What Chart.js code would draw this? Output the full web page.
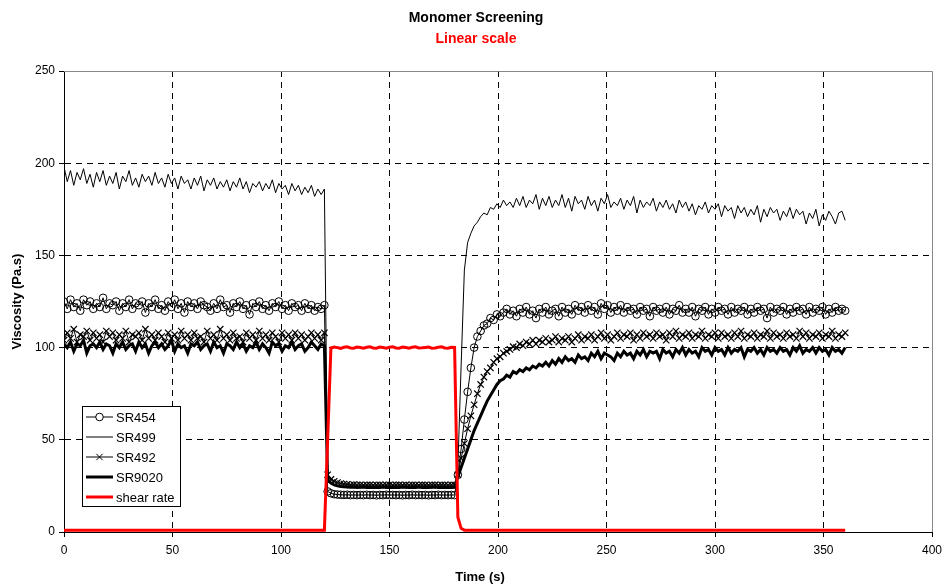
<!DOCTYPE html>
<html>
<head>
<meta charset="utf-8">
<script src="https://cdn.jsdelivr.net/npm/chart.js@4.4.1/dist/chart.umd.min.js"></script>
<style>
  html, body { margin: 0; padding: 0; background: #fff; }
  #wrap { width: 944px; height: 585px; }
</style>
</head>
<body>
<div id="wrap"><canvas id="myChart" width="944" height="585"></canvas></div>
<script>
// one reading every 1.5 s, 0..360 s
const SAMPLE_STEP = 1.5;
const SAMPLE_COUNT = 241;
const time = Array.from({ length: SAMPLE_COUNT }, (_, i) => i * SAMPLE_STEP);

const seriesNames = ['SR454', 'SR499', 'SR492', 'SR9020', 'shear rate'];
const xTicks = [0, 50, 100, 150, 200, 250, 300, 350, 400];
const yTicks = [0, 50, 100, 150, 200, 250];

const sr454 = [
  125,121,126,122,124,120,126,123,125,121,
  124,122,127,121,124,123,125,120,124,122,
  126,121,124,123,125,119,124,122,126,121,
  123,120,125,122,126,121,124,119,125,122,
  124,121,125,123,122,120,124,121,126,122,
  123,119,124,122,125,121,123,118,124,122,
  125,121,123,120,124,122,125,121,123,120,
  124,122,123,120,124,121,123,120,122,121,
  123,
  22,21,20.5,20.3,20.2,20.1,20.2,20,20.1,20,
  20.1,20,20.2,20,20.1,19.9,20.1,20,20.2,20,
  20.1,20,20.1,19.9,20.1,20,20.2,20,20.1,20,
  20.1,19.9,20.1,20,20.2,20,20.1,20,20.1,20,
  31,45,61,76,89,100,106,109,112,113,
  116,115,118,117,119,121,118,120,117,121,
  119,122,118,120,116,121,119,122,118,120,
  121,117,122,119,121,118,123,120,122,119,
  123,120,122,118,124,121,123,119,122,120,
  123,119,122,120,121,118,122,120,121,117,
  122,120,121,119,122,118,121,120,123,119,
  121,119,122,117,121,120,122,118,121,119,
  122,120,121,118,122,119,121,120,122,118,
  121,119,122,120,121,116,122,119,121,120,
  122,118,121,119,122,120,121,118,122,119,
  121,120,122,118,121,119,122,120,121,120
];

const sr499 = [
  198,190,196,188,195,191,197,189,194,187,
  195,190,196,188,193,189,195,186,193,190,
  196,188,192,187,194,190,193,188,195,189,
  192,187,194,189,192,186,193,189,191,186,
  192,188,193,185,191,188,192,186,190,187,
  191,185,190,187,192,186,190,184,189,187,
  190,185,189,186,191,184,189,186,188,183,
  189,185,188,183,187,184,188,182,186,183,
  186,
  30,27,25.8,25.2,24.9,24.7,24.6,24.5,24.6,24.4,
  24.5,24.6,24.4,24.5,24.3,24.5,24.4,24.6,24.4,24.5,
  24.3,24.5,24.4,24.6,24.4,24.3,24.5,24.4,24.6,24.4,
  24.5,24.3,24.4,24.6,24.4,24.5,24.3,24.5,24.4,24.5,
  35,90,142,157,162,166,168,171,173,172,
  176,175,178,176,180,177,179,176,181,177,
  182,176,180,178,183,175,181,177,182,176,
  180,177,183,176,181,174,182,178,180,175,
  182,177,180,174,181,178,183,176,179,177,
  181,175,180,177,182,173,180,176,179,177,
  181,174,179,176,180,175,178,173,180,176,
  179,174,178,172,177,175,179,173,177,175,
  178,171,177,174,176,170,177,173,176,171,
  175,172,177,168,175,171,176,173,175,169,
  174,171,176,170,175,172,174,167,173,170,
  175,166,172,169,174,171,167,173,174,169
];

const sr492 = [
  104,108,105,110,103,107,106,109,104,108,
  105,107,103,109,106,108,104,107,105,109,
  103,107,106,108,104,110,105,107,104,108,
  106,103,108,105,107,104,109,105,107,104,
  108,105,106,103,109,105,107,104,110,105,
  107,104,108,105,106,103,108,105,107,104,
  109,105,107,104,108,106,103,108,105,107,
  104,108,105,107,104,106,108,105,107,104,
  108,
  31,28.5,27.5,26.8,26.3,26,25.8,25.6,25.7,25.5,
  25.6,25.4,25.5,25.6,25.4,25.5,25.6,25.4,25.5,25.6,
  25.4,25.5,25.6,25.4,25.5,25.4,25.6,25.5,25.4,25.6,
  25.5,25.4,25.6,25.5,25.4,25.6,25.5,25.4,25.6,25.5,
  31,40,48,56,63,69,75,80,84,87,
  89,92,94,95,97,98,99,100.5,100,102,
  101,103,102,104,102,104,103,105,103,104,
  106,103,105,104,106,103,105,107,104,106,
  105,107,104,106,108,105,107,104,106,108,
  105,107,106,108,104,107,105,108,106,107,
  105,108,106,107,104,108,106,109,105,107,
  106,108,105,107,106,109,105,107,106,108,
  105,108,106,107,105,108,106,109,105,107,
  106,108,105,107,106,109,105,108,106,107,
  105,108,106,107,105,109,106,108,105,107,
  106,108,105,107,106,109,105,107,106,108
];

const sr9020 = [
  102,100,103,98,102,101,104,97,101,102,
  100,103,99,102,101,97,102,100,103,99,
  101,102,98,103,100,102,97,101,103,100,
  102,99,101,104,98,102,100,101,97,102,
  101,103,99,101,102,98,103,100,101,97,
  102,101,99,103,100,102,98,101,100,103,
  99,102,100,97,103,101,102,98,101,100,
  103,99,101,102,98,100,103,101,99,102,
  101,
  28,26.5,25.5,25,24.7,24.5,24.4,24.3,24.4,24.2,
  24.3,24.4,24.2,24.3,24.1,24.3,24.2,24.4,24.2,24.3,
  24.1,24.3,24.2,24.4,24.2,24.1,24.3,24.2,24.4,24.2,
  24.3,24.1,24.2,24.4,24.2,24.3,24.1,24.3,24.2,24.3,
  30,35,40,45,50,55,59,63,67,71,
  74,77,80,82,83,85,84,87,86,88,
  87,89,88,90,89,91,90,92,90,93,
  91,94,92,95,93,94,92,96,94,95,
  93,97,95,98,94,97,96,95,93,97,
  95,98,96,97,94,98,96,99,95,98,
  97,98,94,99,97,98,95,99,97,100,
  96,99,97,98,95,100,98,99,96,100,
  98,99,96,100,97,99,98,100,95,99,
  98,100,97,99,96,100,98,99,97,100,
  98,99,96,100,98,101,97,99,98,100,
  97,100,98,99,96,100,98,99,97,100
];

const shearRate = [
  1,1,1,1,1,1,1,1,1,1,
  1,1,1,1,1,1,1,1,1,1,
  1,1,1,1,1,1,1,1,1,1,
  1,1,1,1,1,1,1,1,1,1,
  1,1,1,1,1,1,1,1,1,1,
  1,1,1,1,1,1,1,1,1,1,
  1,1,1,1,1,1,1,1,1,1,
  1,1,1,1,1,1,1,1,1,1,
  1,
  50,99.8,100.3,100,99.6,100.2,100.4,99.8,99.7,100.3,
  100.1,99.7,100.2,100.4,99.8,99.7,100.3,100.1,99.7,100.2,
  100.4,99.8,99.7,100.3,100.1,99.7,100.2,100.4,99.8,99.9,
  100.1,100.3,99.7,99.8,100.2,100.4,99.8,99.7,100.2,100.1,
  8,2,1,1,1,1,1,1,1,1,
  1,1,1,1,1,1,1,1,1,1,
  1,1,1,1,1,1,1,1,1,1,
  1,1,1,1,1,1,1,1,1,1,
  1,1,1,1,1,1,1,1,1,1,
  1,1,1,1,1,1,1,1,1,1,
  1,1,1,1,1,1,1,1,1,1,
  1,1,1,1,1,1,1,1,1,1,
  1,1,1,1,1,1,1,1,1,1,
  1,1,1,1,1,1,1,1,1,1,
  1,1,1,1,1,1,1,1,1,1,
  1,1,1,1,1,1,1,1,1,1
];

const FONT = 'Arial, "Liberation Sans", sans-serif';
const toPoints = vals => vals.map((v, i) => ({ x: time[i], y: v }));

// titles, plot frame (top/right grey edges) and the boxed legend inside the plot
const decorations = {
  id: 'decorations',
  beforeDatasetsDraw(chart) {
    const { ctx, chartArea: a } = chart;
    ctx.save();
    ctx.strokeStyle = '#888';
    ctx.lineWidth = 1;
    ctx.beginPath();
    ctx.moveTo(a.left, a.top + 0.5);
    ctx.lineTo(a.right + 0.5, a.top + 0.5);
    ctx.lineTo(a.right + 0.5, a.bottom);
    ctx.stroke();
    ctx.restore();
  },
  afterDraw(chart) {
    const { ctx, chartArea: a } = chart;
    ctx.save();
    ctx.textAlign = 'center';
    ctx.textBaseline = 'middle';
    ctx.fillStyle = '#000';
    ctx.font = 'bold 14px ' + FONT;
    ctx.fillText('Monomer Screening', 476, 18);
    ctx.fillStyle = '#f00';
    ctx.fillText('Linear scale', 476, 39);
    ctx.fillStyle = '#000';
    ctx.font = 'bold 13px ' + FONT;
    ctx.fillText('Time (s)', 480, 577);
    ctx.translate(17, (a.top + a.bottom) / 2);
    ctx.rotate(-Math.PI / 2);
    ctx.fillText('Viscosity (Pa.s)', 0, 0);
    ctx.restore();

    // legend box
    const lx = a.left + 18, ly = a.top + 335, lw = 98, lh = 100;
    ctx.save();
    ctx.fillStyle = '#fff';
    ctx.fillRect(lx, ly, lw, lh);
    ctx.strokeStyle = '#000';
    ctx.lineWidth = 1;
    ctx.strokeRect(lx + 0.5, ly + 0.5, lw, lh);
    chart.data.datasets.forEach((ds, i) => {
      const y = ly + 11 + i * 20;
      ctx.strokeStyle = ds.borderColor;
      ctx.lineWidth = ds.borderWidth;
      ctx.beginPath();
      ctx.moveTo(lx + 4, y);
      ctx.lineTo(lx + 31, y);
      ctx.stroke();
      if (ds.pointRadius > 0) {
        Chart.helpers.drawPoint(ctx, {
          pointStyle: ds.pointStyle, radius: ds.pointRadius,
          borderWidth: ds.pointBorderWidth, rotation: 0
        }, lx + 17.5, y);
      }
      ctx.fillStyle = '#000';
      ctx.font = '13px ' + FONT;
      ctx.textAlign = 'left';
      ctx.textBaseline = 'middle';
      ctx.fillText(ds.label, lx + 34, y + 1);
    });
    ctx.restore();
  }
};

const hideEdge = edges => c => (c.tick && edges.includes(c.tick.value)) ? 'rgba(0,0,0,0)' : '#000';

const ctx = document.getElementById('myChart').getContext('2d');
new Chart(ctx, {
  type: 'line',
  data: {
    datasets: [
      { label: seriesNames[0], data: toPoints(sr454), borderColor: '#000', borderWidth: 1,
        pointStyle: 'circle', pointRadius: 3.8, pointBorderWidth: 1, pointBorderColor: '#000',
        pointBackgroundColor: 'rgba(0,0,0,0)', order: 4 },
      { label: seriesNames[1], data: toPoints(sr499), borderColor: '#000', borderWidth: 1,
        pointRadius: 0, order: 3 },
      { label: seriesNames[2], data: toPoints(sr492), borderColor: '#000', borderWidth: 1,
        pointStyle: 'crossRot', pointRadius: 4.5, pointBorderWidth: 1.2, pointBorderColor: '#000',
        order: 2 },
      { label: seriesNames[3], data: toPoints(sr9020), borderColor: '#000', borderWidth: 3,
        pointRadius: 0, order: 1 },
      { label: seriesNames[4], data: toPoints(shearRate), borderColor: '#f00', borderWidth: 3,
        pointRadius: 0, order: 0 }
    ]
  },
  options: {
    responsive: false,
    animation: false,
    layout: { padding: { top: 71, right: 12, left: 0, bottom: 0 } },
    elements: { line: { tension: 0 } },
    plugins: {
      legend: { display: false },
      title: { display: false },
      tooltip: { enabled: false }
    },
    scales: {
      x: {
        type: 'linear', min: 0, max: 400,
        afterBuildTicks: s => { s.ticks = xTicks.map(v => ({ value: v })); },
        afterFit: s => { s.height = 53; s.paddingRight = 0; s.paddingLeft = 0; },
        grid: { color: hideEdge([0, 400]), lineWidth: 1, tickLength: 5, tickColor: '#000' },
        border: { color: '#000', width: 1, dash: [6, 5] },
        ticks: { color: '#000', font: { family: FONT, size: 12 }, padding: 6, maxRotation: 0 }
      },
      y: {
        type: 'linear', min: 0, max: 250,
        afterBuildTicks: s => { s.ticks = yTicks.map(v => ({ value: v })); },
        afterFit: s => { s.width = 64; },
        grid: { color: hideEdge([0, 250]), lineWidth: 1, tickLength: 5, tickColor: '#000' },
        border: { color: '#000', width: 1, dash: [6, 5] },
        ticks: { color: '#000', font: { family: FONT, size: 12 }, padding: 4 }
      }
    }
  },
  plugins: [decorations]
});
</script>
</body>
</html>
